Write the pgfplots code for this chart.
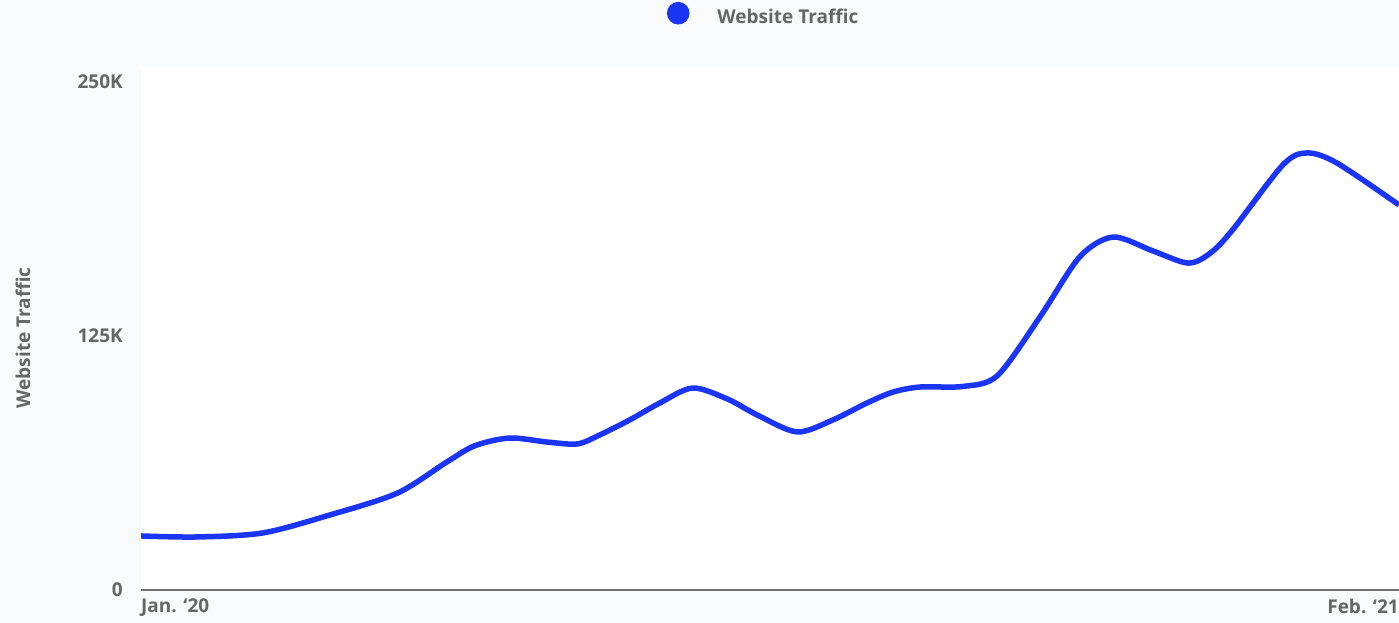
\documentclass[border=0pt]{standalone}
\usepackage{fontspec}
\setmainfont{Open Sans}
\usepackage{pgfplots}
\pgfplotsset{compat=1.18}
\definecolor{bgc}{HTML}{F9FAFC}
\definecolor{txt}{HTML}{666666}
\definecolor{axc}{HTML}{707070}
\definecolor{lc}{HTML}{1A35F5}
\begin{document}
\begin{tikzpicture}
\useasboundingbox (0,0) rectangle (1399bp,623bp);
\clip (0,0) rectangle (1399bp,623bp);
\fill[bgc] (0,0) rectangle (1399bp,623bp);
\begin{axis}[
  at={(141bp,33bp)}, anchor=south west,
  scale only axis, width=1258bp, height=523bp,
  xmin=0, xmax=13, ymin=0, ymax=257.4,
  axis background/.style={fill=white},
  separate axis lines,
  axis x line*=bottom, axis y line*=left,
  y axis line style={draw=none},
  x axis line style={draw=axc, line width=1.5bp, -},
  tick style={draw=none},
  font=\fontsize{19bp}{22bp}\selectfont\bfseries,
  ytick={0,125,250}, yticklabels={0,125K,250K},
  yticklabel style={text=txt, inner sep=0pt, anchor=east, xshift=-18bp},
  xtick={0}, xticklabels={Jan. ‘20},
  xticklabel style={text=txt, inner sep=0pt, anchor=north west, yshift=-9bp},
  extra x ticks={13}, extra x tick labels={Feb. ‘21},
  extra x tick style={xticklabel style={anchor=north east}},
  ylabel={Website Traffic},
  every axis y label/.style={at={(axis description cs:-0.0938,0.482)}, rotate=90, anchor=center, text=txt, font=\fontsize{19bp}{22bp}\selectfont\bfseries},
  legend style={at={(axis description cs:0.4181,1.1026)}, anchor=west, draw=none, fill=none, inner sep=0pt, outer sep=0pt, column sep=28bp, nodes={inner sep=0pt, text=txt, font=\fontsize{19bp}{22bp}\selectfont\bfseries}},
  legend image code/.code={\fill[lc] (0bp,3.5bp) circle (8.5bp);},
]
\addplot[lc, line width=5.5bp, smooth] table {
x y
0 26.6
0.58 26.1
1.26 28.1
1.95 36.9
2.65 47.7
3.16 63.0
3.45 71.0
3.81 74.8
4.20 72.8
4.51 71.9
4.74 76.3
5.05 83.7
5.36 92.0
5.70 99.4
6.06 94.0
6.37 86.1
6.78 77.8
7.15 83.7
7.50 92.0
7.77 97.4
8.05 99.9
8.50 100.2
8.85 105.5
9.29 134.4
9.70 163.9
10.045 173.7
10.45 167.0
10.82 160.9
11.05 165.8
11.28 177.2
11.80 209.2
12.05 215.1
12.36 210.1
13.0 189.5
};
\addlegendentry{Website Traffic}
\end{axis}
\end{tikzpicture}
\end{document}
